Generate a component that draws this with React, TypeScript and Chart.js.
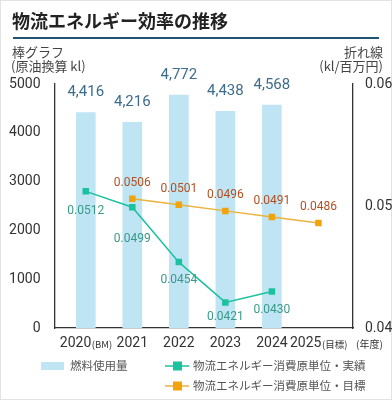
import React, { useEffect, useRef } from "react";
import { Chart, registerables } from "chart.js";

Chart.register(...registerables);

const categories = ["2020", "2021", "2022", "2023", "2024", "2025"];
const categorySuffix = ["(BM)", "", "", "", "", "(目標)"];
const fuelUsage = [4416, 4216, 4772, 4438, 4568, null];
const actualIntensity = [0.0512, 0.0499, 0.0454, 0.0421, 0.043, null];
const targetIntensity = [null, 0.0506, 0.0501, 0.0496, 0.0491, 0.0486];
const actualLabelOffsets = [20, 32, 18, 15, 19, 0];

const leftTicks = [0, 1000, 2000, 3000, 4000, 5000];
const rightTicks = [0.04, 0.05, 0.06];

const TITLE = "物流エネルギー効率の推移";
const LEGEND_BAR = "燃料使用量";
const LEGEND_ACTUAL = "物流エネルギー消費原単位・実績";
const LEGEND_TARGET = "物流エネルギー消費原単位・目標";

const BAR_COLOR = "#bfe4f4";
const GREEN = "#1cc29f";
const ORANGE = "#f0a30a";
const ORANGE_LINE = "#ebb23c";
const FONT = "Roboto, 'Noto Sans CJK JP', sans-serif";
const JFONT = "'Noto Sans CJK JP', Roboto, sans-serif";

const toXY = (arr: (number | null)[]) =>
  arr.map((v, i) => ({ x: i, y: v })).filter((p) => p.y !== null);

const decorPlugin = {
  id: "decor",
  beforeDraw(chart: any) {
    const ctx = chart.ctx;
    ctx.save();
    ctx.fillStyle = "#ffffff";
    ctx.fillRect(0, 0, chart.width, chart.height);
    ctx.strokeStyle = "#e2e2e2";
    ctx.lineWidth = 1;
    ctx.strokeRect(0.5, 0.5, chart.width - 1, chart.height - 1);
    ctx.restore();
  },
  afterDraw(chart: any) {
    const ctx = chart.ctx;
    ctx.save();
    // Title
    ctx.fillStyle = "#222";
    ctx.font = `bold 18px ${JFONT}`;
    ctx.textBaseline = "middle";
    ctx.textAlign = "left";
    ctx.fillText(TITLE, 12, 21);
    ctx.fillStyle = "#1f5572";
    ctx.fillRect(13, 37, 366, 2);

    // Axis titles
    ctx.fillStyle = "#444";
    ctx.font = `13px ${JFONT}`;
    ctx.fillText("棒グラフ", 12, 52);
    ctx.fillText("(原油換算 kl)", 11, 66);
    ctx.textAlign = "right";
    ctx.fillText("折れ線", 383, 52);
    ctx.fillText("(kl/百万円)", 383, 66);

    // X labels
    const xs = chart.scales.x;
    const ly = 343;
    categories.forEach((c, i) => {
      const px = xs.getPixelForValue(i);
      const suf = categorySuffix[i];
      ctx.font = `14px ${FONT}`;
      const w1 = ctx.measureText(c).width;
      ctx.font = `9.5px ${JFONT}`;
      const w2 = suf ? ctx.measureText(suf).width : 0;
      const start = px - (w1 + w2) / 2;
      ctx.textAlign = "left";
      ctx.fillStyle = "#333";
      ctx.font = `14px ${FONT}`;
      ctx.fillText(c, start, ly);
      if (suf) {
        ctx.font = `9.5px ${JFONT}`;
        ctx.fillText(suf, start + w1 + 0.5, ly + 1);
      }
    });
    ctx.font = `10px ${JFONT}`;
    ctx.textAlign = "left";
    ctx.fillText("(年度)", 356, ly + 1);

    // Legend
    ctx.font = `11.5px ${JFONT}`;
    ctx.fillStyle = BAR_COLOR;
    ctx.fillRect(41, 362, 23, 8);
    ctx.fillStyle = "#555";
    ctx.fillText(LEGEND_BAR, 70, 366);

    const drawLineLegend = (y: number, line: string, pt: string, text: string) => {
      ctx.strokeStyle = line;
      ctx.lineWidth = 1.5;
      ctx.beginPath();
      ctx.moveTo(165, y);
      ctx.lineTo(189, y);
      ctx.stroke();
      ctx.fillStyle = pt;
      ctx.fillRect(173, y - 4.5, 9, 9);
      ctx.fillStyle = "#555";
      ctx.fillText(text, 193, y);
    };
    drawLineLegend(366, GREEN, GREEN, LEGEND_ACTUAL);
    drawLineLegend(386, ORANGE_LINE, ORANGE, LEGEND_TARGET);
    ctx.restore();
  },
  afterDatasetsDraw(chart: any) {
    const ctx = chart.ctx;
    ctx.save();
    ctx.textAlign = "center";
    ctx.textBaseline = "middle";
    // bar labels
    const barMeta = chart.getDatasetMeta(0);
    ctx.font = `15px ${FONT}`;
    ctx.fillStyle = "#3d6d8c";
    barMeta.data.forEach((el: any, i: number) => {
      const v = (chart.data.datasets[0].data[i] as any).y;
      ctx.fillText(Number(v).toLocaleString("en-US"), el.x, el.y - 20);
    });
    // actual labels
    ctx.font = `12px ${FONT}`;
    ctx.fillStyle = "#3a9a88";
    chart.getDatasetMeta(1).data.forEach((el: any, i: number) => {
      const v = (chart.data.datasets[1].data[i] as any).y;
      const idx = (chart.data.datasets[1].data[i] as any).x;
      ctx.fillText(v.toFixed(4), el.x, el.y + actualLabelOffsets[idx]);
    });
    // target labels
    ctx.fillStyle = "#b4501f";
    chart.getDatasetMeta(2).data.forEach((el: any, i: number) => {
      const v = (chart.data.datasets[2].data[i] as any).y;
      ctx.fillText(v.toFixed(4), el.x, el.y - 16);
    });
    ctx.restore();
  },
};

export default function App() {
  const ref = useRef<HTMLCanvasElement | null>(null);
  useEffect(() => {
    document.body.style.margin = "0";
    if (!ref.current) return;
    const chart = new Chart(ref.current, {
      type: "bar",
      data: {
        datasets: [
          {
            type: "bar",
            label: LEGEND_BAR,
            data: toXY(fuelUsage) as any,
            backgroundColor: BAR_COLOR,
            barThickness: 19,
            yAxisID: "y",
            order: 3,
          },
          {
            type: "line",
            label: LEGEND_ACTUAL,
            data: toXY(actualIntensity) as any,
            borderColor: GREEN,
            backgroundColor: GREEN,
            borderWidth: 1.5,
            pointStyle: "rect",
            pointRadius: 4.6,
            pointBorderWidth: 0,
            yAxisID: "y2",
            order: 1,
          },
          {
            type: "line",
            label: LEGEND_TARGET,
            data: toXY(targetIntensity) as any,
            borderColor: ORANGE_LINE,
            backgroundColor: ORANGE,
            borderWidth: 1.5,
            pointStyle: "rect",
            pointRadius: 4.6,
            pointBorderWidth: 0,
            yAxisID: "y2",
            order: 2,
          },
        ],
      },
      options: {
        responsive: false,
        animation: false,
        layout: { padding: { top: 84, left: 0, right: 0, bottom: 0 } },
        plugins: {
          legend: { display: false },
          tooltip: { enabled: false },
          title: { display: false },
        },
        scales: {
          x: {
            type: "linear",
            offset: false,
            min: -0.672,
            max: 5.743,
            bounds: "data",
            grid: { display: false, offset: false },
            border: { display: true, color: "#333", width: 1.3 },
            ticks: { display: false },
            afterFit: (s: any) => {
              s.height = 72;
            },
          },
          y: {
            type: "linear",
            position: "left",
            min: 0,
            max: 5000,
            afterBuildTicks: (s: any) => {
              s.ticks = leftTicks.map((v) => ({ value: v }));
            },
            grid: { display: false },
            border: { display: true, color: "#333", width: 1.3 },
            ticks: {
              color: "#333",
              font: { size: 14, family: FONT },
              padding: 6,
              callback: (v: any) => String(v),
            },
            afterFit: (s: any) => {
              s.width = 54.5;
            },
          },
          y2: {
            type: "linear",
            position: "right",
            min: 0.04,
            max: 0.06,
            afterBuildTicks: (s: any) => {
              s.ticks = rightTicks.map((v) => ({ value: v }));
            },
            grid: { display: false },
            border: { display: true, color: "#333", width: 1.3 },
            ticks: {
              color: "#333",
              font: { size: 14, family: FONT },
              padding: 4,
              callback: (v: any) => Number(v).toFixed(2),
            },
            afterFit: (s: any) => {
              s.width = 39;
            },
          },
        },
      } as any,
      plugins: [decorPlugin],
    });
    return () => chart.destroy();
  }, []);
  return (
    <canvas
      ref={ref}
      width={392}
      height={400}
      style={{ display: "block", width: 392, height: 400 }}
    />
  );
}
